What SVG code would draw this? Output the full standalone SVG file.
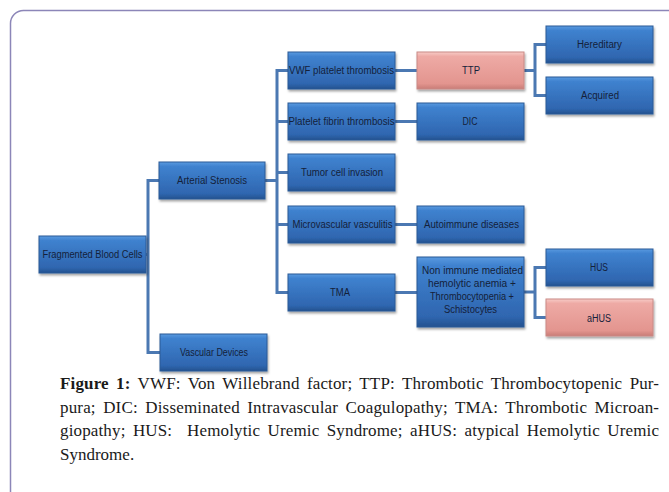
<svg xmlns="http://www.w3.org/2000/svg" width="669" height="492" viewBox="0 0 669 492">
<defs>
<linearGradient id="gBlue" x1="0" y1="0" x2="0" y2="1">
<stop offset="0" stop-color="#5a9ae0"/>
<stop offset="0.12" stop-color="#3f82cf"/>
<stop offset="0.85" stop-color="#2f66b0"/>
<stop offset="1" stop-color="#24528f"/>
</linearGradient>
<linearGradient id="gPink" x1="0" y1="0" x2="0" y2="1">
<stop offset="0" stop-color="#f7cbc7"/>
<stop offset="0.12" stop-color="#eeaaa5"/>
<stop offset="0.85" stop-color="#e3958f"/>
<stop offset="1" stop-color="#c97c77"/>
</linearGradient>
<filter id="sh" x="-10%" y="-20%" width="130%" height="150%">
<feDropShadow dx="1" dy="2" stdDeviation="1.3" flood-color="#000" flood-opacity="0.35"/>
</filter>
</defs>
<style>
.b{fill:url(#gBlue);stroke:#2a5a96;stroke-width:1;filter:url(#sh)}
.p{fill:url(#gPink);stroke:#c98a86;stroke-width:1;filter:url(#sh)}
.t{font-family:"Liberation Sans",Arial,sans-serif;font-size:10px;fill:#14213a;text-anchor:middle}
.c{fill:none;stroke:#4b78b2;stroke-width:3}
.cap{font-family:"Liberation Serif","Times New Roman",serif;font-size:17px;fill:#1a1a1a;word-spacing:3px;white-space:pre}
</style>
<rect x="10.5" y="10.5" width="720" height="520" rx="13" fill="#fff" stroke="#8c86b8" stroke-width="1.5"/>
<g id="connectors">
<path class="c" d="M146 254.5H148M159 180.5H148V352.5H160"/>
<path class="c" d="M265 180.5H277M288 70.5H277V292.5H288M277 121.5H288M277 172.5H288M277 224.5H288"/>
<path class="c" d="M395 70.5H417M395 121.5H417M395 224.5H417M395 292.5H417"/>
<path class="c" d="M524 70.5H535M546 44.5H535V95.5H546"/>
<path class="c" d="M524 292H535M546 267.5H535V317.5H546"/>
</g>
<g id="frag"><rect class="b" x="39" y="236" width="107" height="37"/><text class="t" x="92.5" y="258" textLength="100" lengthAdjust="spacingAndGlyphs">Fragmented Blood Cells</text></g>
<g id="arterial"><rect class="b" x="159" y="162" width="106" height="37"/><text class="t" x="212" y="184" textLength="70" lengthAdjust="spacingAndGlyphs">Arterial Stenosis</text></g>
<g id="vascular"><rect class="b" x="160" y="334" width="107" height="37"/><text class="t" x="214" y="356" textLength="68" lengthAdjust="spacingAndGlyphs">Vascular Devices</text></g>
<g id="vwf"><rect class="b" x="288" y="52" width="107" height="37"/><text class="t" x="341.5" y="74" textLength="105" lengthAdjust="spacingAndGlyphs">VWF platelet thrombosis</text></g>
<g id="platelet"><rect class="b" x="288" y="103" width="107" height="37"/><text class="t" x="341.5" y="125" textLength="106" lengthAdjust="spacingAndGlyphs">Platelet fibrin thrombosis</text></g>
<g id="tumor"><rect class="b" x="288" y="154" width="107" height="37"/><text class="t" x="342" y="176" textLength="82" lengthAdjust="spacingAndGlyphs">Tumor cell invasion</text></g>
<g id="micro"><rect class="b" x="288" y="206" width="107" height="37"/><text class="t" x="342.5" y="228" textLength="100" lengthAdjust="spacingAndGlyphs">Microvascular vasculitis</text></g>
<g id="tma"><rect class="b" x="288" y="274" width="107" height="37"/><text class="t" x="340" y="296" textLength="20" lengthAdjust="spacingAndGlyphs">TMA</text></g>
<g id="ttp"><rect class="p" x="417" y="52" width="107" height="37"/><text class="t" x="471" y="74" textLength="18" lengthAdjust="spacingAndGlyphs">TTP</text></g>
<g id="dic"><rect class="b" x="417" y="103" width="107" height="37"/><text class="t" x="470" y="125" textLength="15" lengthAdjust="spacingAndGlyphs">DIC</text></g>
<g id="auto"><rect class="b" x="417" y="206" width="107" height="37"/><text class="t" x="471.5" y="228" textLength="95" lengthAdjust="spacingAndGlyphs">Autoimmune diseases</text></g>
<g id="nonimm"><rect class="b" x="417" y="257" width="107" height="70"/>
<text class="t" x="472.5" y="274" textLength="101" lengthAdjust="spacingAndGlyphs">Non immune mediated</text>
<text class="t" x="472" y="287" textLength="88" lengthAdjust="spacingAndGlyphs">hemolytic anemia +</text>
<text class="t" x="472" y="300" textLength="84" lengthAdjust="spacingAndGlyphs">Thrombocytopenia +</text>
<text class="t" x="470.5" y="313" textLength="53" lengthAdjust="spacingAndGlyphs">Schistocytes</text></g>
<g id="hered"><rect class="b" x="546" y="26" width="107" height="37"/><text class="t" x="599.5" y="48" textLength="45" lengthAdjust="spacingAndGlyphs">Hereditary</text></g>
<g id="acq"><rect class="b" x="546" y="77" width="107" height="37"/><text class="t" x="600" y="99" textLength="38" lengthAdjust="spacingAndGlyphs">Acquired</text></g>
<g id="hus"><rect class="b" x="546" y="249" width="107" height="37"/><text class="t" x="599" y="271" textLength="18" lengthAdjust="spacingAndGlyphs">HUS</text></g>
<g id="ahus"><rect class="p" x="546" y="299" width="107" height="37"/><text class="t" x="599" y="322" textLength="24" lengthAdjust="spacingAndGlyphs">aHUS</text></g>
<g id="caption">
<text class="cap" x="60" y="389" textLength="599" lengthAdjust="spacing"><tspan font-weight="bold">Figure 1:</tspan> VWF: Von Willebrand factor; TTP: Thrombotic Thrombocytopenic Pur-</text>
<text class="cap" x="60" y="413" textLength="599" lengthAdjust="spacing">pura; DIC: Disseminated Intravascular Coagulopathy; TMA: Thrombotic Microan-</text>
<text class="cap" x="60" y="436" textLength="599" lengthAdjust="spacing">giopathy; HUS:  Hemolytic Uremic Syndrome; aHUS: atypical Hemolytic Uremic</text>
<text class="cap" x="60" y="460">Syndrome.</text>
</g>
</svg>
